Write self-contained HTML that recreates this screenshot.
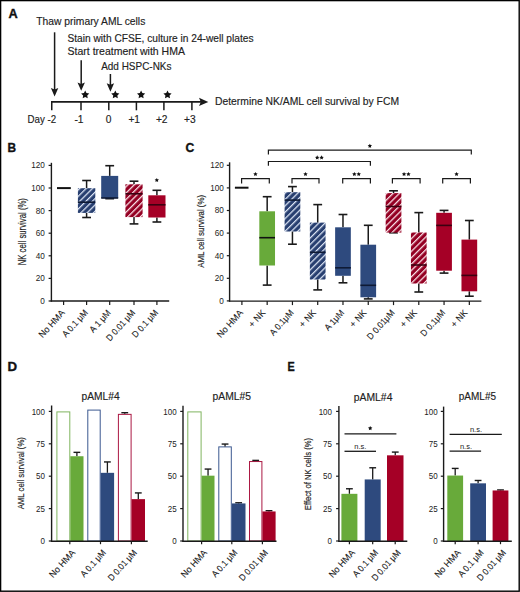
<!DOCTYPE html>
<html><head><meta charset="utf-8"><style>
html,body{margin:0;padding:0;background:#fff;}
body{width:520px;height:592px;overflow:hidden;}
svg{display:block;font-family:"Liberation Sans", sans-serif;}
</style></head><body>
<svg width="520" height="592" viewBox="0 0 520 592">
<defs><pattern id="hb" patternUnits="userSpaceOnUse" width="4.5" height="4.5" patternTransform="rotate(45)"><rect width="4.5" height="4.5" fill="#283f70"/><rect x="0" y="0" width="1.25" height="4.5" fill="#dde6f6"/></pattern><pattern id="hr" patternUnits="userSpaceOnUse" width="4.5" height="4.5" patternTransform="rotate(45)"><rect width="4.5" height="4.5" fill="#940023"/><rect x="0" y="0" width="1.25" height="4.5" fill="#fbe4ea"/></pattern></defs>
<rect x="0" y="0" width="520" height="592" fill="#fff"/>
<text x="8.60" y="17.60" font-size="12.1" text-anchor="start" font-weight="bold" fill="#111" textLength="9.2" lengthAdjust="spacingAndGlyphs" stroke="#111" stroke-width="0.35">A</text>
<text x="36.30" y="25.30" font-size="10.4" text-anchor="start" font-weight="normal" fill="#222" textLength="109" lengthAdjust="spacingAndGlyphs" stroke="#222" stroke-width="0.15">Thaw primary AML cells</text>
<text x="67.50" y="42.00" font-size="10.4" text-anchor="start" font-weight="normal" fill="#222" textLength="186" lengthAdjust="spacingAndGlyphs" stroke="#222" stroke-width="0.15">Stain with CFSE, culture in 24-well plates</text>
<text x="67.50" y="54.60" font-size="10.4" text-anchor="start" font-weight="normal" fill="#222" textLength="117.5" lengthAdjust="spacingAndGlyphs" stroke="#222" stroke-width="0.15">Start treatment with HMA</text>
<text x="101.20" y="70.30" font-size="10.4" text-anchor="start" font-weight="normal" fill="#222" textLength="70.3" lengthAdjust="spacingAndGlyphs" stroke="#222" stroke-width="0.15">Add HSPC-NKs</text>
<text x="215.00" y="105.10" font-size="10.4" text-anchor="start" font-weight="normal" fill="#222" textLength="184.0" lengthAdjust="spacingAndGlyphs" stroke="#222" stroke-width="0.15">Determine NK/AML cell survival by FCM</text>
<line x1="54.60" y1="32.30" x2="54.60" y2="93.40" stroke="#1a1a1a" stroke-width="1.5"/>
<polygon points="54.60,96.40 50.90,88.00 54.60,89.51 58.30,88.00" fill="#1a1a1a"/>
<line x1="81.20" y1="60.30" x2="81.20" y2="87.80" stroke="#1a1a1a" stroke-width="1.5"/>
<polygon points="81.20,90.80 77.50,82.40 81.20,83.91 84.90,82.40" fill="#1a1a1a"/>
<line x1="110.40" y1="74.00" x2="110.40" y2="88.70" stroke="#1a1a1a" stroke-width="1.5"/>
<polygon points="110.40,91.70 106.70,83.30 110.40,84.81 114.10,83.30" fill="#1a1a1a"/>
<polygon points="85.20,90.50 86.46,93.06 89.29,93.47 87.24,95.46 87.73,98.28 85.20,96.95 82.67,98.28 83.16,95.46 81.11,93.47 83.94,93.06" fill="#111"/>
<polygon points="115.30,90.50 116.56,93.06 119.39,93.47 117.34,95.46 117.83,98.28 115.30,96.95 112.77,98.28 113.26,95.46 111.21,93.47 114.04,93.06" fill="#111"/>
<polygon points="141.10,90.50 142.36,93.06 145.19,93.47 143.14,95.46 143.63,98.28 141.10,96.95 138.57,98.28 139.06,95.46 137.01,93.47 139.84,93.06" fill="#111"/>
<polygon points="167.50,90.50 168.76,93.06 171.59,93.47 169.54,95.46 170.03,98.28 167.50,96.95 164.97,98.28 165.46,95.46 163.41,93.47 166.24,93.06" fill="#111"/>
<line x1="51.00" y1="101.90" x2="201.00" y2="101.90" stroke="#1a1a1a" stroke-width="1.7"/>
<polygon points="208.30,101.90 199.00,97.80 200.80,101.90 199.00,106.00" fill="#1a1a1a"/>
<line x1="51.75" y1="101.20" x2="51.75" y2="110.30" stroke="#1a1a1a" stroke-width="1.5"/>
<line x1="81.00" y1="101.20" x2="81.00" y2="110.30" stroke="#1a1a1a" stroke-width="1.5"/>
<line x1="108.80" y1="101.20" x2="108.80" y2="110.30" stroke="#1a1a1a" stroke-width="1.5"/>
<line x1="136.40" y1="101.20" x2="136.40" y2="110.30" stroke="#1a1a1a" stroke-width="1.5"/>
<line x1="163.90" y1="101.20" x2="163.90" y2="110.30" stroke="#1a1a1a" stroke-width="1.5"/>
<line x1="191.90" y1="101.20" x2="191.90" y2="110.30" stroke="#1a1a1a" stroke-width="1.5"/>
<text x="27.60" y="122.60" font-size="10.2" text-anchor="start" font-weight="normal" fill="#222" textLength="28.6" lengthAdjust="spacingAndGlyphs" stroke="#222" stroke-width="0.15">Day -2</text>
<text x="79.00" y="122.60" font-size="10.2" text-anchor="middle" font-weight="normal" fill="#222" stroke="#222" stroke-width="0.15">-1</text>
<text x="108.70" y="122.60" font-size="10.2" text-anchor="middle" font-weight="normal" fill="#222" stroke="#222" stroke-width="0.15">0</text>
<text x="134.20" y="122.60" font-size="10.2" text-anchor="middle" font-weight="normal" fill="#222" stroke="#222" stroke-width="0.15">+1</text>
<text x="161.70" y="122.60" font-size="10.2" text-anchor="middle" font-weight="normal" fill="#222" stroke="#222" stroke-width="0.15">+2</text>
<text x="189.90" y="122.60" font-size="10.2" text-anchor="middle" font-weight="normal" fill="#222" stroke="#222" stroke-width="0.15">+3</text>
<text x="7.40" y="151.90" font-size="12.6" text-anchor="start" font-weight="bold" fill="#111" textLength="8.6" lengthAdjust="spacingAndGlyphs" stroke="#111" stroke-width="0.35">B</text>
<line x1="51.40" y1="162.80" x2="51.40" y2="301.60" stroke="#1a1a1a" stroke-width="1.4"/>
<line x1="48.60" y1="301.00" x2="51.40" y2="301.00" stroke="#1a1a1a" stroke-width="1.2"/>
<text x="44.80" y="303.95" font-size="8.2" text-anchor="end" font-weight="normal" fill="#222" >0</text>
<line x1="48.60" y1="278.40" x2="51.40" y2="278.40" stroke="#1a1a1a" stroke-width="1.2"/>
<text x="44.80" y="281.35" font-size="8.2" text-anchor="end" font-weight="normal" fill="#222" >20</text>
<line x1="48.60" y1="255.80" x2="51.40" y2="255.80" stroke="#1a1a1a" stroke-width="1.2"/>
<text x="44.80" y="258.75" font-size="8.2" text-anchor="end" font-weight="normal" fill="#222" >40</text>
<line x1="48.60" y1="233.20" x2="51.40" y2="233.20" stroke="#1a1a1a" stroke-width="1.2"/>
<text x="44.80" y="236.15" font-size="8.2" text-anchor="end" font-weight="normal" fill="#222" >60</text>
<line x1="48.60" y1="210.60" x2="51.40" y2="210.60" stroke="#1a1a1a" stroke-width="1.2"/>
<text x="44.80" y="213.55" font-size="8.2" text-anchor="end" font-weight="normal" fill="#222" >80</text>
<line x1="48.60" y1="188.00" x2="51.40" y2="188.00" stroke="#1a1a1a" stroke-width="1.2"/>
<text x="44.80" y="190.95" font-size="8.2" text-anchor="end" font-weight="normal" fill="#222" >100</text>
<line x1="48.60" y1="165.40" x2="51.40" y2="165.40" stroke="#1a1a1a" stroke-width="1.2"/>
<text x="44.80" y="168.35" font-size="8.2" text-anchor="end" font-weight="normal" fill="#222" >120</text>
<line x1="50.70" y1="301.00" x2="169.20" y2="301.00" stroke="#1a1a1a" stroke-width="1.4"/>
<line x1="63.60" y1="301.00" x2="63.60" y2="305.00" stroke="#1a1a1a" stroke-width="1.2"/>
<line x1="86.60" y1="301.00" x2="86.60" y2="305.00" stroke="#1a1a1a" stroke-width="1.2"/>
<line x1="109.70" y1="301.00" x2="109.70" y2="305.00" stroke="#1a1a1a" stroke-width="1.2"/>
<line x1="134.00" y1="301.00" x2="134.00" y2="305.00" stroke="#1a1a1a" stroke-width="1.2"/>
<line x1="156.90" y1="301.00" x2="156.90" y2="305.00" stroke="#1a1a1a" stroke-width="1.2"/>
<text transform="translate(25.60,231.70) rotate(-90)" x="0" y="0" font-size="10.2" text-anchor="middle" fill="#222" stroke="#222" stroke-width="0.18" textLength="67.3" lengthAdjust="spacingAndGlyphs">NK cell survival (%)</text>
<line x1="57.00" y1="188.10" x2="70.80" y2="188.10" stroke="#111" stroke-width="2.0"/>
<line x1="86.60" y1="180.50" x2="86.60" y2="188.20" stroke="#1a1a1a" stroke-width="1.5"/>
<line x1="86.60" y1="212.90" x2="86.60" y2="217.50" stroke="#1a1a1a" stroke-width="1.5"/>
<line x1="82.20" y1="180.50" x2="91.00" y2="180.50" stroke="#1a1a1a" stroke-width="1.6"/>
<line x1="82.20" y1="217.50" x2="91.00" y2="217.50" stroke="#1a1a1a" stroke-width="1.6"/>
<rect x="77.90" y="188.20" width="17.40" height="24.70" fill="url(#hb)" stroke="none" stroke-width="0"/>
<line x1="77.90" y1="202.20" x2="95.30" y2="202.20" stroke="#0e1a35" stroke-width="1.6"/>
<line x1="109.70" y1="165.70" x2="109.70" y2="175.90" stroke="#1a1a1a" stroke-width="1.5"/>
<line x1="109.70" y1="198.00" x2="109.70" y2="198.70" stroke="#1a1a1a" stroke-width="1.5"/>
<line x1="105.30" y1="165.70" x2="114.10" y2="165.70" stroke="#1a1a1a" stroke-width="1.6"/>
<line x1="105.30" y1="198.70" x2="114.10" y2="198.70" stroke="#1a1a1a" stroke-width="1.6"/>
<rect x="101.20" y="175.90" width="17.00" height="22.10" fill="#2e4a7e" stroke="none" stroke-width="0"/>
<line x1="101.20" y1="198.00" x2="118.20" y2="198.00" stroke="#0e1a35" stroke-width="1.6"/>
<line x1="134.00" y1="181.20" x2="134.00" y2="184.30" stroke="#1a1a1a" stroke-width="1.5"/>
<line x1="134.00" y1="217.10" x2="134.00" y2="223.90" stroke="#1a1a1a" stroke-width="1.5"/>
<line x1="129.60" y1="181.20" x2="138.40" y2="181.20" stroke="#1a1a1a" stroke-width="1.6"/>
<line x1="129.60" y1="223.90" x2="138.40" y2="223.90" stroke="#1a1a1a" stroke-width="1.6"/>
<rect x="125.40" y="184.30" width="17.20" height="32.80" fill="url(#hr)" stroke="none" stroke-width="0"/>
<line x1="125.40" y1="193.80" x2="142.60" y2="193.80" stroke="#3a0010" stroke-width="1.6"/>
<line x1="156.90" y1="190.30" x2="156.90" y2="195.30" stroke="#1a1a1a" stroke-width="1.5"/>
<line x1="156.90" y1="217.50" x2="156.90" y2="222.00" stroke="#1a1a1a" stroke-width="1.5"/>
<line x1="152.50" y1="190.30" x2="161.30" y2="190.30" stroke="#1a1a1a" stroke-width="1.6"/>
<line x1="152.50" y1="222.00" x2="161.30" y2="222.00" stroke="#1a1a1a" stroke-width="1.6"/>
<rect x="148.30" y="195.30" width="17.20" height="22.20" fill="#a50026" stroke="none" stroke-width="0"/>
<line x1="148.30" y1="204.80" x2="165.50" y2="204.80" stroke="#3a0010" stroke-width="1.6"/>
<polygon points="156.80,177.90 157.48,179.27 158.99,179.49 157.89,180.56 158.15,182.06 156.80,181.35 155.45,182.06 155.71,180.56 154.61,179.49 156.12,179.27" fill="#111"/>
<text transform="translate(65.30,313.10) rotate(-48)" x="0" y="0" font-size="9" text-anchor="end" fill="#222" stroke="#222" stroke-width="0.12" textLength="34" lengthAdjust="spacingAndGlyphs">No HMA</text>
<text transform="translate(88.30,313.10) rotate(-48)" x="0" y="0" font-size="9" text-anchor="end" fill="#222" stroke="#222" stroke-width="0.12" textLength="33.2" lengthAdjust="spacingAndGlyphs">A 0.1 μM</text>
<text transform="translate(111.40,313.10) rotate(-48)" x="0" y="0" font-size="9" text-anchor="end" fill="#222" stroke="#222" stroke-width="0.12" textLength="27" lengthAdjust="spacingAndGlyphs">A 1 μM</text>
<text transform="translate(135.70,313.10) rotate(-48)" x="0" y="0" font-size="9" text-anchor="end" fill="#222" stroke="#222" stroke-width="0.12" textLength="38.5" lengthAdjust="spacingAndGlyphs">D 0.01 μM</text>
<text transform="translate(158.60,313.10) rotate(-48)" x="0" y="0" font-size="9" text-anchor="end" fill="#222" stroke="#222" stroke-width="0.12" textLength="34" lengthAdjust="spacingAndGlyphs">D 0.1 μM</text>
<text x="185.60" y="151.70" font-size="12.6" text-anchor="start" font-weight="bold" fill="#111" textLength="8.8" lengthAdjust="spacingAndGlyphs" stroke="#111" stroke-width="0.35">C</text>
<line x1="229.60" y1="162.30" x2="229.60" y2="301.60" stroke="#1a1a1a" stroke-width="1.4"/>
<line x1="226.80" y1="300.90" x2="229.60" y2="300.90" stroke="#1a1a1a" stroke-width="1.2"/>
<text x="223.80" y="303.85" font-size="8.2" text-anchor="end" font-weight="normal" fill="#222" >0</text>
<line x1="226.80" y1="278.30" x2="229.60" y2="278.30" stroke="#1a1a1a" stroke-width="1.2"/>
<text x="223.80" y="281.25" font-size="8.2" text-anchor="end" font-weight="normal" fill="#222" >20</text>
<line x1="226.80" y1="255.70" x2="229.60" y2="255.70" stroke="#1a1a1a" stroke-width="1.2"/>
<text x="223.80" y="258.65" font-size="8.2" text-anchor="end" font-weight="normal" fill="#222" >40</text>
<line x1="226.80" y1="233.10" x2="229.60" y2="233.10" stroke="#1a1a1a" stroke-width="1.2"/>
<text x="223.80" y="236.05" font-size="8.2" text-anchor="end" font-weight="normal" fill="#222" >60</text>
<line x1="226.80" y1="210.50" x2="229.60" y2="210.50" stroke="#1a1a1a" stroke-width="1.2"/>
<text x="223.80" y="213.45" font-size="8.2" text-anchor="end" font-weight="normal" fill="#222" >80</text>
<line x1="226.80" y1="187.90" x2="229.60" y2="187.90" stroke="#1a1a1a" stroke-width="1.2"/>
<text x="223.80" y="190.85" font-size="8.2" text-anchor="end" font-weight="normal" fill="#222" >100</text>
<line x1="226.80" y1="165.30" x2="229.60" y2="165.30" stroke="#1a1a1a" stroke-width="1.2"/>
<text x="223.80" y="168.25" font-size="8.2" text-anchor="end" font-weight="normal" fill="#222" >120</text>
<line x1="228.90" y1="301.10" x2="481.40" y2="301.10" stroke="#1a1a1a" stroke-width="1.4"/>
<line x1="241.90" y1="301.10" x2="241.90" y2="305.10" stroke="#1a1a1a" stroke-width="1.2"/>
<line x1="267.17" y1="301.10" x2="267.17" y2="305.10" stroke="#1a1a1a" stroke-width="1.2"/>
<line x1="292.44" y1="301.10" x2="292.44" y2="305.10" stroke="#1a1a1a" stroke-width="1.2"/>
<line x1="317.71" y1="301.10" x2="317.71" y2="305.10" stroke="#1a1a1a" stroke-width="1.2"/>
<line x1="342.98" y1="301.10" x2="342.98" y2="305.10" stroke="#1a1a1a" stroke-width="1.2"/>
<line x1="368.25" y1="301.10" x2="368.25" y2="305.10" stroke="#1a1a1a" stroke-width="1.2"/>
<line x1="393.52" y1="301.10" x2="393.52" y2="305.10" stroke="#1a1a1a" stroke-width="1.2"/>
<line x1="418.79" y1="301.10" x2="418.79" y2="305.10" stroke="#1a1a1a" stroke-width="1.2"/>
<line x1="444.06" y1="301.10" x2="444.06" y2="305.10" stroke="#1a1a1a" stroke-width="1.2"/>
<line x1="469.33" y1="301.10" x2="469.33" y2="305.10" stroke="#1a1a1a" stroke-width="1.2"/>
<text transform="translate(203.90,231.40) rotate(-90)" x="0" y="0" font-size="8.8" text-anchor="middle" fill="#222" stroke="#222" stroke-width="0.18" textLength="72.9" lengthAdjust="spacingAndGlyphs">AML cell survival (%)</text>
<line x1="234.90" y1="187.70" x2="248.50" y2="187.70" stroke="#111" stroke-width="2.0"/>
<line x1="267.17" y1="196.70" x2="267.17" y2="211.30" stroke="#1a1a1a" stroke-width="1.5"/>
<line x1="267.17" y1="265.50" x2="267.17" y2="285.10" stroke="#1a1a1a" stroke-width="1.5"/>
<line x1="262.77" y1="196.70" x2="271.57" y2="196.70" stroke="#1a1a1a" stroke-width="1.6"/>
<line x1="262.77" y1="285.10" x2="271.57" y2="285.10" stroke="#1a1a1a" stroke-width="1.6"/>
<rect x="259.32" y="211.30" width="15.70" height="54.20" fill="#68aa3a" stroke="none" stroke-width="0"/>
<line x1="259.32" y1="237.70" x2="275.02" y2="237.70" stroke="#111" stroke-width="1.6"/>
<line x1="292.44" y1="186.60" x2="292.44" y2="192.20" stroke="#1a1a1a" stroke-width="1.5"/>
<line x1="292.44" y1="231.50" x2="292.44" y2="244.20" stroke="#1a1a1a" stroke-width="1.5"/>
<line x1="288.04" y1="186.60" x2="296.84" y2="186.60" stroke="#1a1a1a" stroke-width="1.6"/>
<line x1="288.04" y1="244.20" x2="296.84" y2="244.20" stroke="#1a1a1a" stroke-width="1.6"/>
<rect x="284.59" y="192.20" width="15.70" height="39.30" fill="url(#hb)" stroke="none" stroke-width="0"/>
<line x1="284.59" y1="200.10" x2="300.29" y2="200.10" stroke="#0e1a35" stroke-width="1.6"/>
<line x1="317.71" y1="204.60" x2="317.71" y2="222.60" stroke="#1a1a1a" stroke-width="1.5"/>
<line x1="317.71" y1="279.50" x2="317.71" y2="289.90" stroke="#1a1a1a" stroke-width="1.5"/>
<line x1="313.31" y1="204.60" x2="322.11" y2="204.60" stroke="#1a1a1a" stroke-width="1.6"/>
<line x1="313.31" y1="289.90" x2="322.11" y2="289.90" stroke="#1a1a1a" stroke-width="1.6"/>
<rect x="309.86" y="222.60" width="15.70" height="56.90" fill="url(#hb)" stroke="none" stroke-width="0"/>
<line x1="309.86" y1="252.30" x2="325.56" y2="252.30" stroke="#0e1a35" stroke-width="1.6"/>
<line x1="342.98" y1="214.50" x2="342.98" y2="227.30" stroke="#1a1a1a" stroke-width="1.5"/>
<line x1="342.98" y1="275.80" x2="342.98" y2="282.80" stroke="#1a1a1a" stroke-width="1.5"/>
<line x1="338.58" y1="214.50" x2="347.38" y2="214.50" stroke="#1a1a1a" stroke-width="1.6"/>
<line x1="338.58" y1="282.80" x2="347.38" y2="282.80" stroke="#1a1a1a" stroke-width="1.6"/>
<rect x="335.13" y="227.30" width="15.70" height="48.50" fill="#2e4a7e" stroke="none" stroke-width="0"/>
<line x1="335.13" y1="267.80" x2="350.83" y2="267.80" stroke="#0e1a35" stroke-width="1.6"/>
<line x1="368.25" y1="225.30" x2="368.25" y2="244.70" stroke="#1a1a1a" stroke-width="1.5"/>
<line x1="368.25" y1="297.30" x2="368.25" y2="298.90" stroke="#1a1a1a" stroke-width="1.5"/>
<line x1="363.85" y1="225.30" x2="372.65" y2="225.30" stroke="#1a1a1a" stroke-width="1.6"/>
<line x1="363.85" y1="298.90" x2="372.65" y2="298.90" stroke="#1a1a1a" stroke-width="1.6"/>
<rect x="360.40" y="244.70" width="15.70" height="52.60" fill="#2e4a7e" stroke="none" stroke-width="0"/>
<line x1="360.40" y1="285.30" x2="376.10" y2="285.30" stroke="#0e1a35" stroke-width="1.6"/>
<line x1="393.52" y1="190.80" x2="393.52" y2="193.10" stroke="#1a1a1a" stroke-width="1.5"/>
<line x1="393.52" y1="232.60" x2="393.52" y2="232.80" stroke="#1a1a1a" stroke-width="1.5"/>
<line x1="389.12" y1="190.80" x2="397.92" y2="190.80" stroke="#1a1a1a" stroke-width="1.6"/>
<line x1="389.12" y1="232.80" x2="397.92" y2="232.80" stroke="#1a1a1a" stroke-width="1.6"/>
<rect x="385.67" y="193.10" width="15.70" height="39.50" fill="url(#hr)" stroke="none" stroke-width="0"/>
<line x1="385.67" y1="206.50" x2="401.37" y2="206.50" stroke="#3a0010" stroke-width="1.6"/>
<line x1="418.79" y1="212.60" x2="418.79" y2="232.50" stroke="#1a1a1a" stroke-width="1.5"/>
<line x1="418.79" y1="283.50" x2="418.79" y2="292.00" stroke="#1a1a1a" stroke-width="1.5"/>
<line x1="414.39" y1="212.60" x2="423.19" y2="212.60" stroke="#1a1a1a" stroke-width="1.6"/>
<line x1="414.39" y1="292.00" x2="423.19" y2="292.00" stroke="#1a1a1a" stroke-width="1.6"/>
<rect x="410.94" y="232.50" width="15.70" height="51.00" fill="url(#hr)" stroke="none" stroke-width="0"/>
<line x1="410.94" y1="265.00" x2="426.64" y2="265.00" stroke="#3a0010" stroke-width="1.6"/>
<line x1="444.06" y1="210.40" x2="444.06" y2="212.80" stroke="#1a1a1a" stroke-width="1.5"/>
<line x1="444.06" y1="270.70" x2="444.06" y2="273.10" stroke="#1a1a1a" stroke-width="1.5"/>
<line x1="439.66" y1="210.40" x2="448.46" y2="210.40" stroke="#1a1a1a" stroke-width="1.6"/>
<line x1="439.66" y1="273.10" x2="448.46" y2="273.10" stroke="#1a1a1a" stroke-width="1.6"/>
<rect x="436.21" y="212.80" width="15.70" height="57.90" fill="#a50026" stroke="none" stroke-width="0"/>
<line x1="436.21" y1="225.40" x2="451.91" y2="225.40" stroke="#3a0010" stroke-width="1.6"/>
<line x1="469.33" y1="220.50" x2="469.33" y2="239.60" stroke="#1a1a1a" stroke-width="1.5"/>
<line x1="469.33" y1="291.30" x2="469.33" y2="296.20" stroke="#1a1a1a" stroke-width="1.5"/>
<line x1="464.93" y1="220.50" x2="473.73" y2="220.50" stroke="#1a1a1a" stroke-width="1.6"/>
<line x1="464.93" y1="296.20" x2="473.73" y2="296.20" stroke="#1a1a1a" stroke-width="1.6"/>
<rect x="461.48" y="239.60" width="15.70" height="51.70" fill="#a50026" stroke="none" stroke-width="0"/>
<line x1="461.48" y1="275.40" x2="477.18" y2="275.40" stroke="#3a0010" stroke-width="1.6"/>
<path d="M241.60,183.50 V178.60 H269.30 V183.50" stroke="#1a1a1a" stroke-width="1.2" fill="none"/>
<polygon points="255.45,171.90 256.13,173.27 257.64,173.49 256.54,174.56 256.80,176.06 255.45,175.35 254.10,176.06 254.36,174.56 253.26,173.49 254.77,173.27" fill="#111"/>
<path d="M292.00,183.50 V178.60 H319.00 V183.50" stroke="#1a1a1a" stroke-width="1.2" fill="none"/>
<polygon points="305.50,171.90 306.18,173.27 307.69,173.49 306.59,174.56 306.85,176.06 305.50,175.35 304.15,176.06 304.41,174.56 303.31,173.49 304.82,173.27" fill="#111"/>
<path d="M342.70,183.50 V178.60 H370.40 V183.50" stroke="#1a1a1a" stroke-width="1.2" fill="none"/>
<polygon points="354.35,171.90 355.03,173.27 356.54,173.49 355.44,174.56 355.70,176.06 354.35,175.35 353.00,176.06 353.26,174.56 352.16,173.49 353.67,173.27" fill="#111"/>
<polygon points="358.75,171.90 359.43,173.27 360.94,173.49 359.84,174.56 360.10,176.06 358.75,175.35 357.40,176.06 357.66,174.56 356.56,173.49 358.07,173.27" fill="#111"/>
<path d="M392.40,183.50 V178.60 H420.10 V183.50" stroke="#1a1a1a" stroke-width="1.2" fill="none"/>
<polygon points="404.05,171.90 404.73,173.27 406.24,173.49 405.14,174.56 405.40,176.06 404.05,175.35 402.70,176.06 402.96,174.56 401.86,173.49 403.37,173.27" fill="#111"/>
<polygon points="408.45,171.90 409.13,173.27 410.64,173.49 409.54,174.56 409.80,176.06 408.45,175.35 407.10,176.06 407.36,174.56 406.26,173.49 407.77,173.27" fill="#111"/>
<path d="M442.70,183.50 V178.60 H470.40 V183.50" stroke="#1a1a1a" stroke-width="1.2" fill="none"/>
<polygon points="456.55,171.90 457.23,173.27 458.74,173.49 457.64,174.56 457.90,176.06 456.55,175.35 455.20,176.06 455.46,174.56 454.36,173.49 455.87,173.27" fill="#111"/>
<path d="M268.40,165.80 V161.50 H370.40 V165.80" stroke="#1a1a1a" stroke-width="1.2" fill="none"/>
<polygon points="317.20,155.30 317.88,156.67 319.39,156.89 318.29,157.96 318.55,159.46 317.20,158.75 315.85,159.46 316.11,157.96 315.01,156.89 316.52,156.67" fill="#111"/>
<polygon points="321.60,155.30 322.28,156.67 323.79,156.89 322.69,157.96 322.95,159.46 321.60,158.75 320.25,159.46 320.51,157.96 319.41,156.89 320.92,156.67" fill="#111"/>
<path d="M268.40,154.40 V150.20 H471.30 V154.40" stroke="#1a1a1a" stroke-width="1.2" fill="none"/>
<polygon points="369.85,143.70 370.53,145.07 372.04,145.29 370.94,146.36 371.20,147.86 369.85,147.15 368.50,147.86 368.76,146.36 367.66,145.29 369.17,145.07" fill="#111"/>
<text transform="translate(243.60,313.10) rotate(-48)" x="0" y="0" font-size="9" text-anchor="end" fill="#222" stroke="#222" stroke-width="0.12" textLength="34" lengthAdjust="spacingAndGlyphs">No HMA</text>
<text transform="translate(265.87,313.10) rotate(-48)" x="0" y="0" font-size="9" text-anchor="end" fill="#222" stroke="#222" stroke-width="0.12" textLength="20" lengthAdjust="spacingAndGlyphs">+ NK</text>
<text transform="translate(294.14,313.10) rotate(-48)" x="0" y="0" font-size="9" text-anchor="end" fill="#222" stroke="#222" stroke-width="0.12" textLength="31" lengthAdjust="spacingAndGlyphs">A 0.1μM</text>
<text transform="translate(316.41,313.10) rotate(-48)" x="0" y="0" font-size="9" text-anchor="end" fill="#222" stroke="#222" stroke-width="0.12" textLength="20" lengthAdjust="spacingAndGlyphs">+ NK</text>
<text transform="translate(344.68,313.10) rotate(-48)" x="0" y="0" font-size="9" text-anchor="end" fill="#222" stroke="#222" stroke-width="0.12" textLength="24.5" lengthAdjust="spacingAndGlyphs">A 1μM</text>
<text transform="translate(366.95,313.10) rotate(-48)" x="0" y="0" font-size="9" text-anchor="end" fill="#222" stroke="#222" stroke-width="0.12" textLength="20" lengthAdjust="spacingAndGlyphs">+ NK</text>
<text transform="translate(395.22,313.10) rotate(-48)" x="0" y="0" font-size="9" text-anchor="end" fill="#222" stroke="#222" stroke-width="0.12" textLength="36.5" lengthAdjust="spacingAndGlyphs">D 0.01μM</text>
<text transform="translate(417.49,313.10) rotate(-48)" x="0" y="0" font-size="9" text-anchor="end" fill="#222" stroke="#222" stroke-width="0.12" textLength="20" lengthAdjust="spacingAndGlyphs">+ NK</text>
<text transform="translate(445.76,313.10) rotate(-48)" x="0" y="0" font-size="9" text-anchor="end" fill="#222" stroke="#222" stroke-width="0.12" textLength="32" lengthAdjust="spacingAndGlyphs">D 0.1μM</text>
<text transform="translate(468.03,313.10) rotate(-48)" x="0" y="0" font-size="9" text-anchor="end" fill="#222" stroke="#222" stroke-width="0.12" textLength="20" lengthAdjust="spacingAndGlyphs">+ NK</text>
<text x="7.40" y="370.90" font-size="12.4" text-anchor="start" font-weight="bold" fill="#111" textLength="9.6" lengthAdjust="spacingAndGlyphs" stroke="#111" stroke-width="0.35">D</text>
<text x="100.60" y="399.90" font-size="10" text-anchor="middle" font-weight="normal" fill="#222" textLength="38.1" lengthAdjust="spacingAndGlyphs" stroke="#222" stroke-width="0.15">pAML#4</text>
<line x1="51.60" y1="405.50" x2="51.60" y2="541.80" stroke="#1a1a1a" stroke-width="1.4"/>
<line x1="48.80" y1="541.00" x2="51.60" y2="541.00" stroke="#1a1a1a" stroke-width="1.2"/>
<text x="45.00" y="544.24" font-size="9" text-anchor="end" font-weight="normal" fill="#222" textLength="4.45" lengthAdjust="spacingAndGlyphs" >0</text>
<line x1="48.80" y1="508.60" x2="51.60" y2="508.60" stroke="#1a1a1a" stroke-width="1.2"/>
<text x="45.00" y="511.84" font-size="9" text-anchor="end" font-weight="normal" fill="#222" textLength="8.9" lengthAdjust="spacingAndGlyphs" >25</text>
<line x1="48.80" y1="476.20" x2="51.60" y2="476.20" stroke="#1a1a1a" stroke-width="1.2"/>
<text x="45.00" y="479.44" font-size="9" text-anchor="end" font-weight="normal" fill="#222" textLength="8.9" lengthAdjust="spacingAndGlyphs" >50</text>
<line x1="48.80" y1="443.80" x2="51.60" y2="443.80" stroke="#1a1a1a" stroke-width="1.2"/>
<text x="45.00" y="447.04" font-size="9" text-anchor="end" font-weight="normal" fill="#222" textLength="8.9" lengthAdjust="spacingAndGlyphs" >75</text>
<line x1="48.80" y1="411.40" x2="51.60" y2="411.40" stroke="#1a1a1a" stroke-width="1.2"/>
<text x="45.00" y="414.64" font-size="9" text-anchor="end" font-weight="normal" fill="#222" textLength="13.350000000000001" lengthAdjust="spacingAndGlyphs" >100</text>
<rect x="56.90" y="411.90" width="12.90" height="129.10" fill="#fff" stroke="#80b560" stroke-width="1.0"/>
<line x1="76.90" y1="452.35" x2="76.90" y2="456.24" stroke="#1a1a1a" stroke-width="1.3"/>
<line x1="73.50" y1="452.35" x2="80.30" y2="452.35" stroke="#1a1a1a" stroke-width="1.4"/>
<rect x="70.30" y="456.24" width="13.20" height="84.76" fill="#68aa3a" stroke="none" stroke-width="0"/>
<rect x="87.80" y="410.09" width="12.40" height="130.91" fill="#fff" stroke="#3b5890" stroke-width="1.0"/>
<line x1="107.40" y1="461.94" x2="107.40" y2="472.83" stroke="#1a1a1a" stroke-width="1.3"/>
<line x1="104.00" y1="461.94" x2="110.80" y2="461.94" stroke="#1a1a1a" stroke-width="1.4"/>
<rect x="100.70" y="472.83" width="13.40" height="68.17" fill="#2e4a7e" stroke="none" stroke-width="0"/>
<rect x="118.40" y="414.36" width="12.70" height="126.64" fill="#fff" stroke="#ab1843" stroke-width="1.0"/>
<line x1="124.75" y1="412.70" x2="124.75" y2="413.86" stroke="#1a1a1a" stroke-width="1.3"/>
<line x1="121.35" y1="412.70" x2="128.15" y2="412.70" stroke="#1a1a1a" stroke-width="1.4"/>
<line x1="138.30" y1="492.92" x2="138.30" y2="499.14" stroke="#1a1a1a" stroke-width="1.3"/>
<line x1="134.90" y1="492.92" x2="141.70" y2="492.92" stroke="#1a1a1a" stroke-width="1.4"/>
<rect x="131.60" y="499.14" width="13.40" height="41.86" fill="#a50026" stroke="none" stroke-width="0"/>
<line x1="50.90" y1="541.20" x2="147.70" y2="541.20" stroke="#1a1a1a" stroke-width="1.4"/>
<line x1="69.80" y1="541.20" x2="69.80" y2="544.20" stroke="#1a1a1a" stroke-width="1.2"/>
<line x1="100.50" y1="541.20" x2="100.50" y2="544.20" stroke="#1a1a1a" stroke-width="1.2"/>
<line x1="131.40" y1="541.20" x2="131.40" y2="544.20" stroke="#1a1a1a" stroke-width="1.2"/>
<text transform="translate(23.80,473.20) rotate(-90)" x="0" y="0" font-size="9.3" text-anchor="middle" fill="#222" stroke="#222" stroke-width="0.18" textLength="72.3" lengthAdjust="spacingAndGlyphs">AML cell survival (%)</text>
<text transform="translate(75.80,553.00) rotate(-48)" x="0" y="0" font-size="9" text-anchor="end" fill="#222" stroke="#222" stroke-width="0.12" textLength="34" lengthAdjust="spacingAndGlyphs">No HMA</text>
<text transform="translate(106.50,553.00) rotate(-48)" x="0" y="0" font-size="9" text-anchor="end" fill="#222" stroke="#222" stroke-width="0.12" textLength="33.2" lengthAdjust="spacingAndGlyphs">A 0.1 μM</text>
<text transform="translate(137.40,553.00) rotate(-48)" x="0" y="0" font-size="9" text-anchor="end" fill="#222" stroke="#222" stroke-width="0.12" textLength="38.5" lengthAdjust="spacingAndGlyphs">D 0.01 μM</text>
<text x="231.80" y="400.20" font-size="10" text-anchor="middle" font-weight="normal" fill="#222" textLength="38.5" lengthAdjust="spacingAndGlyphs" stroke="#222" stroke-width="0.15">pAML#5</text>
<line x1="183.00" y1="405.80" x2="183.00" y2="541.80" stroke="#1a1a1a" stroke-width="1.4"/>
<line x1="180.20" y1="541.00" x2="183.00" y2="541.00" stroke="#1a1a1a" stroke-width="1.2"/>
<text x="176.60" y="544.24" font-size="9" text-anchor="end" font-weight="normal" fill="#222" textLength="4.45" lengthAdjust="spacingAndGlyphs" >0</text>
<line x1="180.20" y1="508.60" x2="183.00" y2="508.60" stroke="#1a1a1a" stroke-width="1.2"/>
<text x="176.60" y="511.84" font-size="9" text-anchor="end" font-weight="normal" fill="#222" textLength="8.9" lengthAdjust="spacingAndGlyphs" >25</text>
<line x1="180.20" y1="476.20" x2="183.00" y2="476.20" stroke="#1a1a1a" stroke-width="1.2"/>
<text x="176.60" y="479.44" font-size="9" text-anchor="end" font-weight="normal" fill="#222" textLength="8.9" lengthAdjust="spacingAndGlyphs" >50</text>
<line x1="180.20" y1="443.80" x2="183.00" y2="443.80" stroke="#1a1a1a" stroke-width="1.2"/>
<text x="176.60" y="447.04" font-size="9" text-anchor="end" font-weight="normal" fill="#222" textLength="8.9" lengthAdjust="spacingAndGlyphs" >75</text>
<line x1="180.20" y1="411.40" x2="183.00" y2="411.40" stroke="#1a1a1a" stroke-width="1.2"/>
<text x="176.60" y="414.64" font-size="9" text-anchor="end" font-weight="normal" fill="#222" textLength="13.350000000000001" lengthAdjust="spacingAndGlyphs" >100</text>
<rect x="187.80" y="411.90" width="13.30" height="129.10" fill="#fff" stroke="#80b560" stroke-width="1.0"/>
<line x1="208.05" y1="469.07" x2="208.05" y2="475.68" stroke="#1a1a1a" stroke-width="1.3"/>
<line x1="204.65" y1="469.07" x2="211.45" y2="469.07" stroke="#1a1a1a" stroke-width="1.4"/>
<rect x="201.60" y="475.68" width="12.90" height="65.32" fill="#68aa3a" stroke="none" stroke-width="0"/>
<rect x="218.80" y="446.89" width="12.50" height="94.11" fill="#fff" stroke="#3b5890" stroke-width="1.0"/>
<line x1="225.05" y1="444.06" x2="225.05" y2="446.39" stroke="#1a1a1a" stroke-width="1.3"/>
<line x1="221.65" y1="444.06" x2="228.45" y2="444.06" stroke="#1a1a1a" stroke-width="1.4"/>
<line x1="238.65" y1="502.77" x2="238.65" y2="503.42" stroke="#1a1a1a" stroke-width="1.3"/>
<line x1="235.25" y1="502.77" x2="242.05" y2="502.77" stroke="#1a1a1a" stroke-width="1.4"/>
<rect x="231.80" y="503.42" width="13.70" height="37.58" fill="#2e4a7e" stroke="none" stroke-width="0"/>
<rect x="249.50" y="461.54" width="12.40" height="79.46" fill="#fff" stroke="#ab1843" stroke-width="1.0"/>
<line x1="255.70" y1="460.39" x2="255.70" y2="461.04" stroke="#1a1a1a" stroke-width="1.3"/>
<line x1="252.30" y1="460.39" x2="259.10" y2="460.39" stroke="#1a1a1a" stroke-width="1.4"/>
<line x1="269.00" y1="510.67" x2="269.00" y2="511.45" stroke="#1a1a1a" stroke-width="1.3"/>
<line x1="265.60" y1="510.67" x2="272.40" y2="510.67" stroke="#1a1a1a" stroke-width="1.4"/>
<rect x="262.40" y="511.45" width="13.20" height="29.55" fill="#a50026" stroke="none" stroke-width="0"/>
<line x1="182.30" y1="541.20" x2="276.50" y2="541.20" stroke="#1a1a1a" stroke-width="1.4"/>
<line x1="201.60" y1="541.20" x2="201.60" y2="544.20" stroke="#1a1a1a" stroke-width="1.2"/>
<line x1="231.80" y1="541.20" x2="231.80" y2="544.20" stroke="#1a1a1a" stroke-width="1.2"/>
<line x1="262.40" y1="541.20" x2="262.40" y2="544.20" stroke="#1a1a1a" stroke-width="1.2"/>
<text transform="translate(207.60,553.00) rotate(-48)" x="0" y="0" font-size="9" text-anchor="end" fill="#222" stroke="#222" stroke-width="0.12" textLength="34" lengthAdjust="spacingAndGlyphs">No HMA</text>
<text transform="translate(237.80,553.00) rotate(-48)" x="0" y="0" font-size="9" text-anchor="end" fill="#222" stroke="#222" stroke-width="0.12" textLength="33.2" lengthAdjust="spacingAndGlyphs">A 0.1 μM</text>
<text transform="translate(268.40,553.00) rotate(-48)" x="0" y="0" font-size="9" text-anchor="end" fill="#222" stroke="#222" stroke-width="0.12" textLength="38.5" lengthAdjust="spacingAndGlyphs">D 0.01 μM</text>
<text x="287.40" y="370.90" font-size="12.4" text-anchor="start" font-weight="bold" fill="#111" textLength="7.2" lengthAdjust="spacingAndGlyphs" stroke="#111" stroke-width="0.35">E</text>
<text x="373.10" y="401.30" font-size="10" text-anchor="middle" font-weight="normal" fill="#222" textLength="38.6" lengthAdjust="spacingAndGlyphs" stroke="#222" stroke-width="0.15">pAML#4</text>
<line x1="338.90" y1="405.90" x2="338.90" y2="541.80" stroke="#1a1a1a" stroke-width="1.4"/>
<line x1="336.10" y1="541.00" x2="338.90" y2="541.00" stroke="#1a1a1a" stroke-width="1.2"/>
<text x="332.00" y="544.24" font-size="9" text-anchor="end" font-weight="normal" fill="#222" textLength="4.45" lengthAdjust="spacingAndGlyphs" >0</text>
<line x1="336.10" y1="508.60" x2="338.90" y2="508.60" stroke="#1a1a1a" stroke-width="1.2"/>
<text x="332.00" y="511.84" font-size="9" text-anchor="end" font-weight="normal" fill="#222" textLength="8.9" lengthAdjust="spacingAndGlyphs" >25</text>
<line x1="336.10" y1="476.20" x2="338.90" y2="476.20" stroke="#1a1a1a" stroke-width="1.2"/>
<text x="332.00" y="479.44" font-size="9" text-anchor="end" font-weight="normal" fill="#222" textLength="8.9" lengthAdjust="spacingAndGlyphs" >50</text>
<line x1="336.10" y1="443.80" x2="338.90" y2="443.80" stroke="#1a1a1a" stroke-width="1.2"/>
<text x="332.00" y="447.04" font-size="9" text-anchor="end" font-weight="normal" fill="#222" textLength="8.9" lengthAdjust="spacingAndGlyphs" >75</text>
<line x1="336.10" y1="411.40" x2="338.90" y2="411.40" stroke="#1a1a1a" stroke-width="1.2"/>
<text x="332.00" y="414.64" font-size="9" text-anchor="end" font-weight="normal" fill="#222" textLength="13.350000000000001" lengthAdjust="spacingAndGlyphs" >100</text>
<line x1="349.40" y1="488.77" x2="349.40" y2="493.83" stroke="#1a1a1a" stroke-width="1.3"/>
<line x1="346.00" y1="488.77" x2="352.80" y2="488.77" stroke="#1a1a1a" stroke-width="1.4"/>
<rect x="341.40" y="493.83" width="16.00" height="47.17" fill="#68aa3a" stroke="none" stroke-width="0"/>
<line x1="372.70" y1="467.78" x2="372.70" y2="479.44" stroke="#1a1a1a" stroke-width="1.3"/>
<line x1="369.30" y1="467.78" x2="376.10" y2="467.78" stroke="#1a1a1a" stroke-width="1.4"/>
<rect x="364.70" y="479.44" width="16.00" height="61.56" fill="#2e4a7e" stroke="none" stroke-width="0"/>
<line x1="395.25" y1="452.09" x2="395.25" y2="455.33" stroke="#1a1a1a" stroke-width="1.3"/>
<line x1="391.85" y1="452.09" x2="398.65" y2="452.09" stroke="#1a1a1a" stroke-width="1.4"/>
<rect x="387.00" y="455.33" width="16.50" height="85.67" fill="#a50026" stroke="none" stroke-width="0"/>
<line x1="338.20" y1="541.20" x2="407.30" y2="541.20" stroke="#1a1a1a" stroke-width="1.4"/>
<line x1="349.40" y1="541.20" x2="349.40" y2="544.20" stroke="#1a1a1a" stroke-width="1.2"/>
<line x1="372.70" y1="541.20" x2="372.70" y2="544.20" stroke="#1a1a1a" stroke-width="1.2"/>
<line x1="395.20" y1="541.20" x2="395.20" y2="544.20" stroke="#1a1a1a" stroke-width="1.2"/>
<line x1="344.50" y1="433.80" x2="396.40" y2="433.80" stroke="#1a1a1a" stroke-width="1.3"/>
<polygon points="370.20,426.00 370.88,427.37 372.39,427.59 371.29,428.66 371.55,430.16 370.20,429.45 368.85,430.16 369.11,428.66 368.01,427.59 369.52,427.37" fill="#111"/>
<line x1="344.50" y1="451.30" x2="376.00" y2="451.30" stroke="#1a1a1a" stroke-width="1.3"/>
<text x="360.30" y="448.60" font-size="7.5" text-anchor="middle" font-weight="normal" fill="#222" >n.s.</text>
<text transform="translate(311.10,474.00) rotate(-90)" x="0" y="0" font-size="9.2" text-anchor="middle" fill="#222" stroke="#222" stroke-width="0.18" textLength="72.3" lengthAdjust="spacingAndGlyphs">Effect of NK cells (%)</text>
<text transform="translate(355.40,553.00) rotate(-48)" x="0" y="0" font-size="9" text-anchor="end" fill="#222" stroke="#222" stroke-width="0.12" textLength="34" lengthAdjust="spacingAndGlyphs">No HMA</text>
<text transform="translate(378.70,553.00) rotate(-48)" x="0" y="0" font-size="9" text-anchor="end" fill="#222" stroke="#222" stroke-width="0.12" textLength="33.2" lengthAdjust="spacingAndGlyphs">A 0.1 μM</text>
<text transform="translate(401.20,553.00) rotate(-48)" x="0" y="0" font-size="9" text-anchor="end" fill="#222" stroke="#222" stroke-width="0.12" textLength="38.5" lengthAdjust="spacingAndGlyphs">D 0.01 μM</text>
<text x="477.40" y="400.20" font-size="10" text-anchor="middle" font-weight="normal" fill="#222" textLength="37.2" lengthAdjust="spacingAndGlyphs" stroke="#222" stroke-width="0.15">pAML#5</text>
<line x1="443.60" y1="406.60" x2="443.60" y2="541.80" stroke="#1a1a1a" stroke-width="1.4"/>
<line x1="440.80" y1="541.00" x2="443.60" y2="541.00" stroke="#1a1a1a" stroke-width="1.2"/>
<text x="437.60" y="544.24" font-size="9" text-anchor="end" font-weight="normal" fill="#222" textLength="4.45" lengthAdjust="spacingAndGlyphs" >0</text>
<line x1="440.80" y1="508.60" x2="443.60" y2="508.60" stroke="#1a1a1a" stroke-width="1.2"/>
<text x="437.60" y="511.84" font-size="9" text-anchor="end" font-weight="normal" fill="#222" textLength="8.9" lengthAdjust="spacingAndGlyphs" >25</text>
<line x1="440.80" y1="476.20" x2="443.60" y2="476.20" stroke="#1a1a1a" stroke-width="1.2"/>
<text x="437.60" y="479.44" font-size="9" text-anchor="end" font-weight="normal" fill="#222" textLength="8.9" lengthAdjust="spacingAndGlyphs" >50</text>
<line x1="440.80" y1="443.80" x2="443.60" y2="443.80" stroke="#1a1a1a" stroke-width="1.2"/>
<text x="437.60" y="447.04" font-size="9" text-anchor="end" font-weight="normal" fill="#222" textLength="8.9" lengthAdjust="spacingAndGlyphs" >75</text>
<line x1="440.80" y1="411.40" x2="443.60" y2="411.40" stroke="#1a1a1a" stroke-width="1.2"/>
<text x="437.60" y="414.64" font-size="9" text-anchor="end" font-weight="normal" fill="#222" textLength="13.350000000000001" lengthAdjust="spacingAndGlyphs" >100</text>
<line x1="455.20" y1="468.42" x2="455.20" y2="475.55" stroke="#1a1a1a" stroke-width="1.3"/>
<line x1="451.80" y1="468.42" x2="458.60" y2="468.42" stroke="#1a1a1a" stroke-width="1.4"/>
<rect x="447.30" y="475.55" width="15.80" height="65.45" fill="#68aa3a" stroke="none" stroke-width="0"/>
<line x1="478.10" y1="480.48" x2="478.10" y2="483.33" stroke="#1a1a1a" stroke-width="1.3"/>
<line x1="474.70" y1="480.48" x2="481.50" y2="480.48" stroke="#1a1a1a" stroke-width="1.4"/>
<rect x="470.20" y="483.33" width="15.80" height="57.67" fill="#2e4a7e" stroke="none" stroke-width="0"/>
<line x1="500.50" y1="489.94" x2="500.50" y2="490.46" stroke="#1a1a1a" stroke-width="1.3"/>
<line x1="497.10" y1="489.94" x2="503.90" y2="489.94" stroke="#1a1a1a" stroke-width="1.4"/>
<rect x="492.60" y="490.46" width="15.80" height="50.54" fill="#a50026" stroke="none" stroke-width="0"/>
<line x1="442.90" y1="541.20" x2="511.80" y2="541.20" stroke="#1a1a1a" stroke-width="1.4"/>
<line x1="455.20" y1="541.20" x2="455.20" y2="544.20" stroke="#1a1a1a" stroke-width="1.2"/>
<line x1="478.10" y1="541.20" x2="478.10" y2="544.20" stroke="#1a1a1a" stroke-width="1.2"/>
<line x1="500.50" y1="541.20" x2="500.50" y2="544.20" stroke="#1a1a1a" stroke-width="1.2"/>
<line x1="449.60" y1="434.30" x2="501.80" y2="434.30" stroke="#1a1a1a" stroke-width="1.3"/>
<text x="476.00" y="431.60" font-size="7.5" text-anchor="middle" font-weight="normal" fill="#222" >n.s.</text>
<line x1="449.60" y1="451.10" x2="481.10" y2="451.10" stroke="#1a1a1a" stroke-width="1.3"/>
<text x="466.00" y="448.80" font-size="7.5" text-anchor="middle" font-weight="normal" fill="#222" >n.s.</text>
<text transform="translate(461.20,553.00) rotate(-48)" x="0" y="0" font-size="9" text-anchor="end" fill="#222" stroke="#222" stroke-width="0.12" textLength="34" lengthAdjust="spacingAndGlyphs">No HMA</text>
<text transform="translate(484.10,553.00) rotate(-48)" x="0" y="0" font-size="9" text-anchor="end" fill="#222" stroke="#222" stroke-width="0.12" textLength="33.2" lengthAdjust="spacingAndGlyphs">A 0.1 μM</text>
<text transform="translate(506.50,553.00) rotate(-48)" x="0" y="0" font-size="9" text-anchor="end" fill="#222" stroke="#222" stroke-width="0.12" textLength="38.5" lengthAdjust="spacingAndGlyphs">D 0.01 μM</text>
<rect x="0.6" y="0.6" width="518.6" height="590.6" fill="none" stroke="#000" stroke-width="1.4"/>
</svg>
</body></html>
